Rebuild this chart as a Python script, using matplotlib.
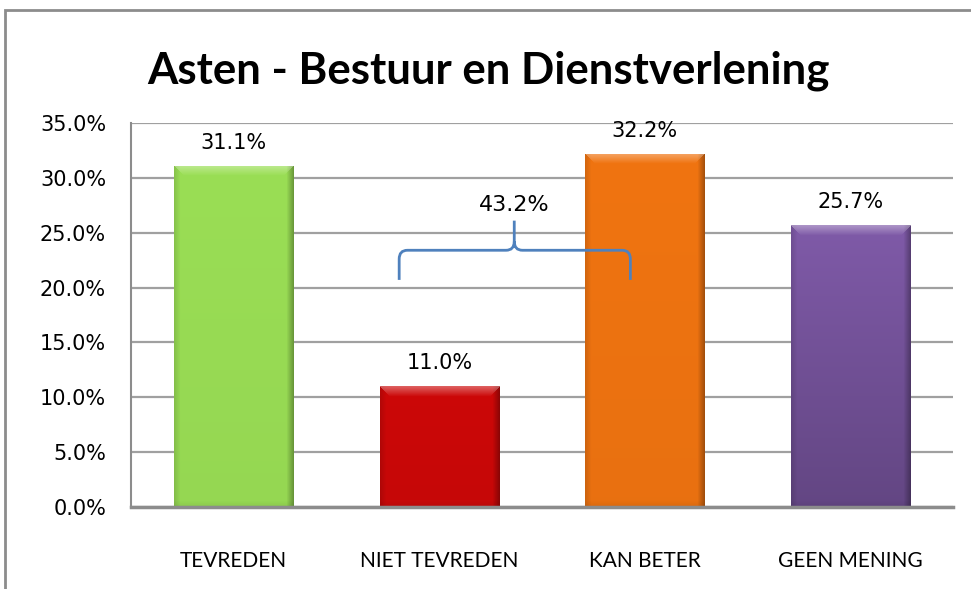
import numpy as np
import matplotlib
matplotlib.use("Agg")
import matplotlib.pyplot as plt
import matplotlib.colors as mcolors
from matplotlib.path import Path
from matplotlib.patches import PathPatch, Rectangle

# data
categories = ["TEVREDEN", "NIET TEVREDEN", "KAN BETER", "GEEN MENING"]
values = [31.1, 11.0, 32.2, 25.7]
bar_colors = ["#9ade55", "#cc0808", "#f07411", "#7f5aa8"]
bottom_shade = [0.97, 0.97, 0.97, 0.78]
brace_label = "43.2%"
title = "Asten - Bestuur en Dienstverlening"
yticks = np.arange(0, 36, 5)

W, H = 971, 589
fig = plt.figure(figsize=(W / 100, H / 100), dpi=100)
ax = fig.add_axes([131 / W, 1 - 507 / H, (953 - 131) / W, (507 - 123) / H])

# outer chart frame
fig.patches.append(Rectangle((5 / W, -0.05), 1.1, 1 - 10 / H + 0.05,
                             transform=fig.transFigure, fill=False,
                             edgecolor="#8c8c8c", lw=2))

fig.text(488 / W, 1 - 71 / H, title, ha="center", va="center",
         fontsize=31.5, fontweight="bold", family="Lato")

ax.set_xlim(-0.5, len(categories) - 0.5)
ax.set_ylim(0, 35)
ax.set_yticks(yticks)
ax.set_yticklabels(["%.1f%%" % t for t in yticks], fontsize=15)
ax.set_xticks(range(len(categories)))
ax.set_xticklabels(categories, fontsize=15, family="Lato")
ax.tick_params(axis="y", length=0, pad=18)
ax.tick_params(axis="x", length=0, pad=32)
ax.yaxis.grid(True, color="#a0a0a0", lw=1.6)
ax.set_axisbelow(True)
for s in ["top", "right"]:
    ax.spines[s].set_visible(False)
ax.spines["left"].set_color("#8c8c8c")
ax.spines["left"].set_linewidth(1.5)
ax.spines["bottom"].set_color("#8c8c8c")
ax.spines["bottom"].set_linewidth(2.5)
ax.spines["bottom"].set_zorder(5)

bw = 0.58


def bevel_image(color, nrows, ncols, shade):
    base = np.array(mcolors.to_rgb(color))
    img = np.ones((nrows, ncols, 3)) * base
    # vertical gradient toward bottom
    v = np.linspace(1.0, shade, nrows)[:, None, None]
    img = img * v
    # side darkening
    xs = np.arange(ncols)
    right = np.clip((xs - (ncols - 8)) / 8.0, 0, 1)
    left = np.clip((6 - xs) / 6.0, 0, 1)
    side = 1 - 0.35 * right - 0.12 * left
    img = img * side[None, :, None]
    # top bevel (lighter band)
    for r in range(min(10, nrows)):
        f = 0.35 * (1 - r / 10.0)
        lo = r
        hi = ncols - r
        img[r, lo:hi] = img[r, lo:hi] + (1 - img[r, lo:hi]) * f
    # bottom bevel (slightly darker)
    for r in range(min(6, nrows)):
        rr = nrows - 1 - r
        img[rr] = img[rr] * (1 - 0.06 * (1 - r / 6.0))
    return np.clip(img, 0, 1)


px_per_unit = (507 - 123) / 35.0
for i, (v, c, sh) in enumerate(zip(values, bar_colors, bottom_shade)):
    bars = ax.bar(i, v, bw, color=c, zorder=2)
    nrows = max(int(v * px_per_unit), 2)
    img = bevel_image(c, nrows, 119, sh)
    im = ax.imshow(img, extent=(i - bw / 2, i + bw / 2, 0, v), aspect="auto",
                   zorder=3, interpolation="bilinear")
    im.set_clip_path(bars[0])
    ax.text(i, v + 2.1, "%.1f%%" % v, ha="center", va="center", fontsize=15,
            zorder=4)

ax.set_xlim(-0.5, len(categories) - 0.5)
ax.set_ylim(0, 35)

# curly brace over NIET TEVREDEN + KAN BETER
bx0, bx1, bmid = 0.805, 1.93, 1.365
by_end, by_line, by_tip = 20.7, 23.4, 26.1
r = 0.04
verts = [(bx0, by_end), (bx0, by_line - 0.8), (bx0, by_line), (bx0 + r, by_line),
         (bmid - r, by_line), (bmid, by_line), (bmid, by_line + 0.8), (bmid, by_tip),
         (bmid, by_line + 0.8), (bmid, by_line), (bmid + r, by_line),
         (bx1 - r, by_line), (bx1, by_line), (bx1, by_line - 0.8), (bx1, by_end)]
codes = [Path.MOVETO, Path.LINETO, Path.CURVE3, Path.CURVE3,
         Path.LINETO, Path.CURVE3, Path.CURVE3, Path.LINETO,
         Path.MOVETO, Path.CURVE3, Path.CURVE3,
         Path.LINETO, Path.CURVE3, Path.CURVE3, Path.LINETO]
ax.add_patch(PathPatch(Path(verts, codes), fill=False, edgecolor="#4f81bd",
                       lw=2, zorder=6, capstyle="butt"))
ax.text(bmid, 27.5, brace_label, ha="center", va="center", fontsize=16, zorder=6)

fig.savefig("out.png", dpi=100)
